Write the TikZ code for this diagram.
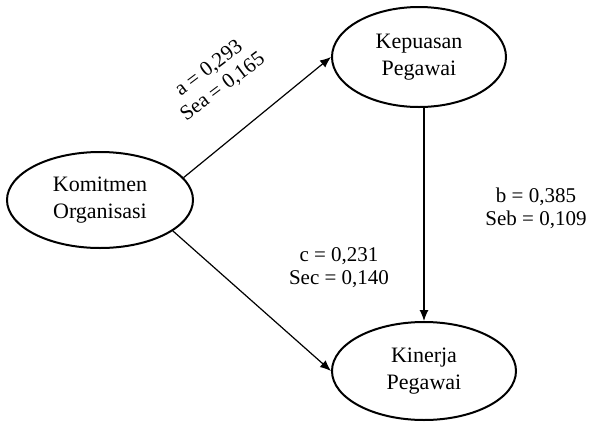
\documentclass[tikz,border=0pt]{standalone}
\usepackage{fontspec}
\setmainfont{Liberation Serif}
\usetikzlibrary{shapes.geometric,arrows.meta}

\begin{document}
\begin{tikzpicture}[x=0.5pt,y=-0.5pt,
        var/.style={draw,ellipse,line width=1pt,inner sep=0pt,align=center,
            font=\fontsize{11}{13.5}\selectfont},
        arr/.style={-{Latex[length=5.5pt,width=4.5pt]},line width=0.6pt},
        est/.style={align=center,inner sep=0pt,font=\fontsize{10.5}{11.5}\selectfont}]
    \useasboundingbox (0,0) rectangle (590,424);
    % variabel
    \node[var,minimum width=87pt,minimum height=50pt] (kepuasan) at (419,57) {Kepuasan\\Pegawai};
    \node[var,minimum width=93pt,minimum height=48pt] (komitmen) at (100,200) {Komitmen\\Organisasi};
    \node[var,minimum width=92pt,minimum height=49pt] (kinerja) at (424,371) {Kinerja\\Pegawai};
    % jalur
    \draw[arr] (komitmen.15) -- (kepuasan.west);
    \draw[arr] (komitmen.-23) -- (kinerja.west);
    \draw[arr] (kepuasan.south -| kinerja.north) -- (kinerja.north);
    % koefisien
    \node[est,rotate=37] (koefa) at (216,78) {a = 0,293\\Sea = 0,165};
    \node[est] (koefb) at (536,208) {b = 0,385\\Seb = 0,109};
    \node[est] (koefc) at (339,268) {c = 0,231\\Sec = 0,140};
\end{tikzpicture}
\end{document}
